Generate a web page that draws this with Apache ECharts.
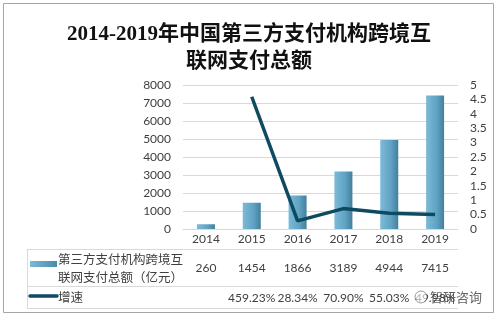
<!DOCTYPE html>
<html>
<head>
<meta charset="utf-8">
<script src="https://cdn.jsdelivr.net/npm/echarts@6/dist/echarts.min.js"></script>
<style>
html, body { margin: 0; padding: 0; background: #fff; }
#main { width: 498px; height: 318px; }
</style>
</head>
<body>
<div id="main"></div>
<script>
var years = ['2014', '2015', '2016', '2017', '2018', '2019'];
var amount = [260, 1454, 1866, 3189, 4944, 7415]; // 亿元
var growth = [null, 459.23, 28.34, 70.90, 55.03, 49.98]; // %
var barName = ['第三方支付机构跨境互', '联网支付总额（亿元）'];
var lineName = '增速';

var numFont = 'Lato, "Noto Sans CJK SC", sans-serif';
var cjkFont = '"Noto Sans CJK SC", sans-serif';
var gridColor = '#d9d9d9';

var chart = echarts.init(document.getElementById('main'));

var option = {
    animation: false,
    title: {
        text: '2014-2019年中国第三方支付机构跨境互\n联网支付总额',
        left: 'center',
        top: 16,
        textStyle: {
            fontFamily: '"Liberation Serif", "Noto Sans CJK SC", serif',
            fontSize: 21,
            fontWeight: 'bold',
            color: '#111',
            lineHeight: 27
        }
    },
    grid: { left: 183, right: 40, top: 85, bottom: 89 },
    xAxis: {
        type: 'category',
        data: years,
        axisLine: { lineStyle: { color: gridColor } },
        axisTick: { length: 79, lineStyle: { color: gridColor } },
        axisLabel: { margin: 4, fontSize: 12, color: '#404040', fontFamily: numFont }
    },
    yAxis: [{
        type: 'value',
        min: 0, max: 8000, interval: 1000,
        axisLine: { show: false },
        axisTick: { show: false },
        splitLine: { lineStyle: { color: gridColor } },
        axisLabel: { margin: 12, fontSize: 12, color: '#404040', fontFamily: numFont,
            formatter: function (v) { return String(v); } }
    }, {
        type: 'value',
        min: 0, max: 5, interval: 0.5,
        axisLine: { show: false },
        axisTick: { show: false },
        splitLine: { show: false },
        axisLabel: { margin: 12, fontSize: 12, color: '#404040', fontFamily: numFont,
            formatter: function (v) { return String(v); } }
    }],
    series: [{
        name: barName.join(''),
        type: 'bar',
        barWidth: 18,
        data: amount,
        itemStyle: {
            color: new echarts.graphic.LinearGradient(0, 0, 1, 0, [
                { offset: 0, color: '#7dbad8' },
                { offset: 0.6, color: '#5fa2c3' },
                { offset: 1, color: '#437f9c' }
            ])
        }
    }, {
        name: lineName,
        type: 'line',
        yAxisIndex: 1,
        showSymbol: false,
        data: growth.map(function (g) { return g == null ? null : g / 100; }),
        lineStyle: { color: '#0e4b60', width: 3.5 }
    }]
};
chart.setOption(option);

// 数据表
var row1 = 249, row2 = 286, bottom0 = 308, left0 = 27, right0 = 458;
var g = [];
var line = function (x1, y1, x2, y2) {
    g.push({ type: 'line', shape: { x1: x1, y1: y1, x2: x2, y2: y2 }, style: { stroke: gridColor, lineWidth: 1 } });
};
line(left0, row1 + 0.5, right0, row1 + 0.5);
line(left0, row2 + 0.5, right0, row2 + 0.5);
line(left0, bottom0 + 0.5, right0, bottom0 + 0.5);
line(left0 + 0.5, row1, left0 + 0.5, bottom0);

years.forEach(function (y, i) {
    var cx = chart.convertToPixel({ xAxisIndex: 0 }, y);
    g.push({ type: 'text', x: cx, y: (row1 + row2) / 2 + 1, style: {
        text: String(amount[i]), align: 'center', verticalAlign: 'middle',
        font: '12px ' + numFont, fill: '#404040' } });
    if (growth[i] != null) {
        g.push({ type: 'text', x: cx, y: (row2 + bottom0) / 2 + 1, style: {
            text: growth[i].toFixed(2) + '%', align: 'center', verticalAlign: 'middle',
            font: '12px ' + numFont, fill: '#404040' } });
    }
});

// 图例
g.push({ type: 'rect', shape: { x: 30, y: 261, width: 27, height: 6 }, style: {
    fill: new echarts.graphic.LinearGradient(0, 0, 1, 0, [
        { offset: 0, color: '#7dbad8' }, { offset: 1, color: '#4a8aa8' }]) } });
g.push({ type: 'text', x: 58, y: 259, style: { text: barName[0], verticalAlign: 'middle',
    font: '12.5px ' + cjkFont, fill: '#404040' } });
g.push({ type: 'text', x: 58, y: 277, style: { text: barName[1], verticalAlign: 'middle',
    font: '12.5px ' + cjkFont, fill: '#404040' } });
g.push({ type: 'line', shape: { x1: 30, y1: 296, x2: 57, y2: 296 }, style: {
    stroke: '#0e4b60', lineWidth: 3.5, lineCap: 'round' } });
g.push({ type: 'text', x: 58, y: 297, style: { text: lineName, verticalAlign: 'middle',
    font: '12.5px ' + cjkFont, fill: '#404040' } });

// 水印
g.push({ type: 'circle', shape: { cx: 421, cy: 297, r: 6 }, style: {
    fill: 'rgba(255,255,255,0.6)', stroke: 'rgba(90,90,90,0.6)', lineWidth: 1 } });
g.push({ type: 'text', x: 430, y: 297, style: { text: '智研咨询', verticalAlign: 'middle',
    font: '13px ' + cjkFont, fill: 'rgba(60,60,60,0.8)' } });

// 外框
g.push({ type: 'rect', shape: { x: 3.5, y: 3.5, width: 490, height: 309 }, style: {
    fill: 'none', stroke: '#a6a6a6', lineWidth: 1 } });

chart.setOption({ graphic: g });
</script>
</body>
</html>
